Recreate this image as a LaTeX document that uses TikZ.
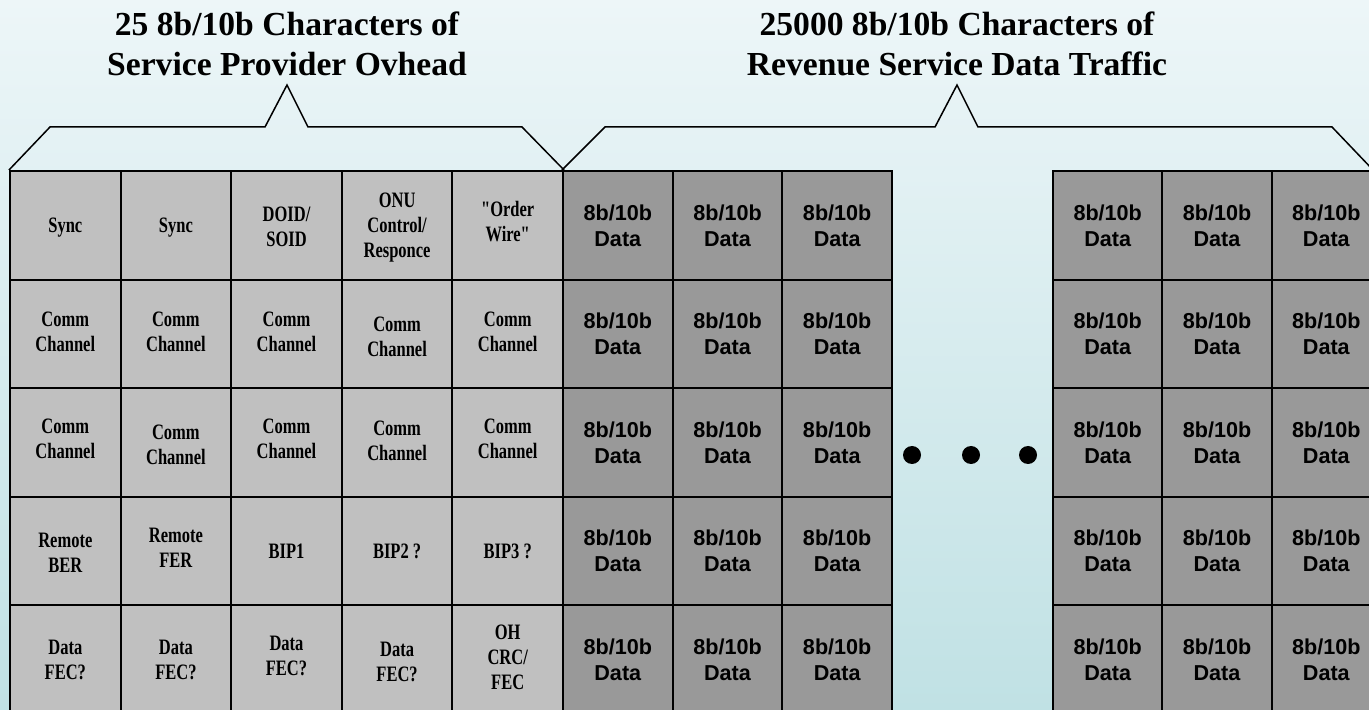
\documentclass[tikz,border=0pt]{standalone}
\usepackage{fontspec}
\setmainfont{Liberation Serif}
\newfontfamily\ohfont{Liberation Serif}[FakeStretch=0.75]
\newfontfamily\datafont{Liberation Sans}
\definecolor{bgtop}{RGB}{237,246,248}
\definecolor{bgbot}{RGB}{192,225,228}
\definecolor{ohfill}{RGB}{192,192,192}
\definecolor{datafill}{RGB}{153,153,153}
% overhead cell: name, x, y, text shift, text
\newcommand\ohc[5]{%
  \node[ohcell] (#1) at (#2,#3) {};
  \node[ohtext] (#1t) at ([yshift=#4]#1.center) {#5};}
\begin{document}
\begin{tikzpicture}[x=0.5pt,y=-0.5pt,
  cellbase/.style={draw=black, line width=1pt, inner sep=0pt, minimum height=54.3pt, align=center, anchor=center},
  ohcell/.style={cellbase, fill=ohfill, minimum width=55.3pt},
  ohtext/.style={inner sep=0pt, align=center, font=\ohfont\bfseries\fontsize{11}{12.5}\selectfont},
  datacell/.style={cellbase, fill=datafill, minimum width=54.83pt, font=\datafont\bfseries\fontsize{10.8}{13}\selectfont},
  rdatacell/.style={datacell, minimum width=54.67pt},
  title/.style={font=\bfseries\fontsize{16.8}{20}\selectfont, align=center},
  brace/.style={line width=0.75pt, line join=miter},
  dot/.style={circle, fill=black, minimum size=9pt, inner sep=0pt}]
\useasboundingbox (0,0) rectangle (1369,710);
\shade[top color=bgtop, bottom color=bgbot] (0,0) rectangle (1369,710);

% overhead block
\ohc{o11}{65.3}{225.3}{-1pt}{Sync}
\ohc{o12}{175.9}{225.3}{-1pt}{Sync}
\ohc{o13}{286.5}{225.3}{-1pt}{DOID/\\SOID}
\ohc{o14}{397.1}{225.3}{-1pt}{ONU\\Control/\\Responce}
\ohc{o15}{507.7}{225.3}{2pt}{"Order\\Wire"}

\ohc{o21}{65.3}{333.9}{1pt}{Comm\\Channel}
\ohc{o22}{175.9}{333.9}{1pt}{Comm\\Channel}
\ohc{o23}{286.5}{333.9}{1pt}{Comm\\Channel}
\ohc{o24}{397.1}{333.9}{-1.5pt}{Comm\\Channel}
\ohc{o25}{507.7}{333.9}{1pt}{Comm\\Channel}

\ohc{o31}{65.3}{442.5}{2pt}{Comm\\Channel}
\ohc{o32}{175.9}{442.5}{-1pt}{Comm\\Channel}
\ohc{o33}{286.5}{442.5}{2pt}{Comm\\Channel}
\ohc{o34}{397.1}{442.5}{1pt}{Comm\\Channel}
\ohc{o35}{507.7}{442.5}{2pt}{Comm\\Channel}

\ohc{o41}{65.3}{551.1}{-1pt}{Remote\\BER}
\ohc{o42}{175.9}{551.1}{1.5pt}{Remote\\FER}
\ohc{o43}{286.5}{551.1}{0pt}{BIP1}
\ohc{o44}{397.1}{551.1}{0pt}{BIP2 ?}
\ohc{o45}{507.7}{551.1}{0pt}{BIP3 ?}

\ohc{o51}{65.3}{659.7}{0pt}{Data\\FEC?}
\ohc{o52}{175.9}{659.7}{0pt}{Data\\FEC?}
\ohc{o53}{286.5}{659.7}{2pt}{Data\\FEC?}
\ohc{o54}{397.1}{659.7}{-1pt}{Data\\FEC?}
\ohc{o55}{507.7}{659.7}{1pt}{OH\\CRC/\\FEC}

% data blocks
\foreach \r/\yy in {1/225.3,2/333.9,3/442.5,4/551.1,5/659.7}{
  \foreach \c/\xx in {1/617.8,2/727.5,3/837.2}
    \node[datacell] (d\r\c) at (\xx,\yy) {8b/10b\\Data};
  \foreach \c/\xx in {1/1107.7,2/1217,3/1326.3}
    \node[rdatacell] (e\r\c) at (\xx,\yy) {8b/10b\\Data};
}

% ellipsis dots
\node[dot] (p1) at (912,455) {};
\node[dot] (p2) at (971,455) {};
\node[dot] (p3) at (1028,455) {};

% braces
\draw[brace] (o11.north west) -- (50,127) -- (265,127) -- (287,85) -- (308,127) -- (522,127) -- (o15.north east);
\draw[brace] (d11.north west) -- (605,127) -- (935,127) -- (957,85) -- (978,127) -- (1332,127) -- (1374,171);

% titles
\node[title] (t1) at (287,44) {25 8b/10b Characters of\\Service Provider Ovhead};
\node[title] (t2) at (957,44) {25000 8b/10b Characters of\\Revenue Service Data Traffic};
\end{tikzpicture}
\end{document}
